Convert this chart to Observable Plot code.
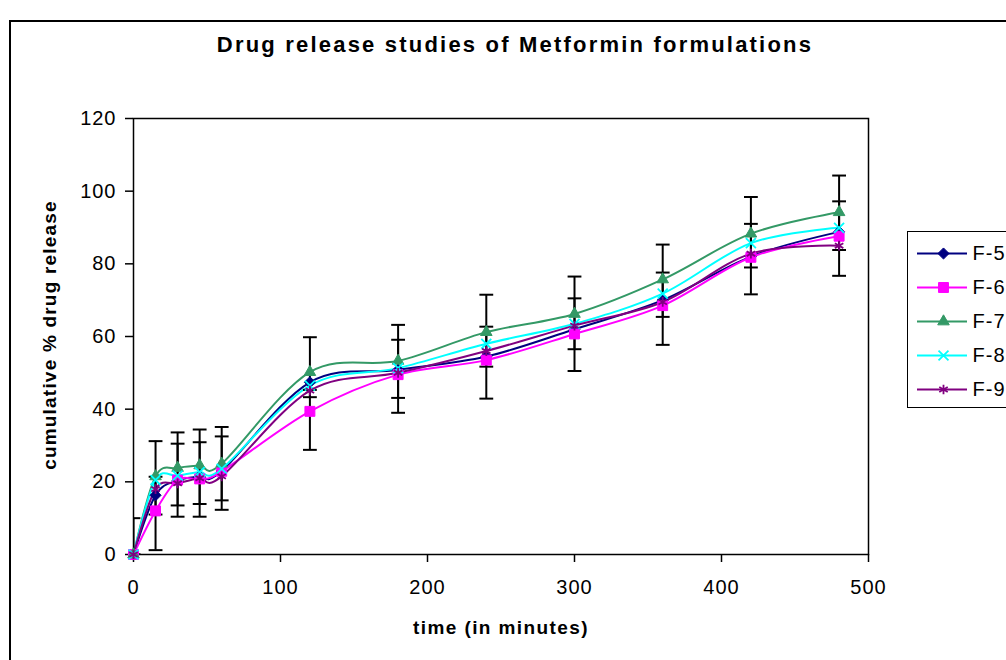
<!DOCTYPE html>
<html>
<head>
<meta charset="utf-8">
<script src="https://cdn.jsdelivr.net/npm/d3@7"></script>
<script src="https://cdn.jsdelivr.net/npm/@observablehq/plot@0.6"></script>
<style>
  html, body { margin: 0; padding: 0; background: #fff; }
  body { width: 1006px; height: 660px; overflow: hidden; position: relative; font-family: "Liberation Sans", Arial, sans-serif; }
  #outer { position: absolute; left: 9px; top: 20px; width: 1100px; height: 700px; border: 2px solid #000; box-sizing: border-box; }
  #chart { position: absolute; left: 0; top: 0; }
  #chart svg text { letter-spacing: 1px; }
  #title { position: absolute; left: 0; width: 1030px; top: 32px; text-align: center; font-weight: bold; font-size: 22px; letter-spacing: 2.2px; }
  #xlabel { position: absolute; left: 0; width: 1002px; top: 617px; text-align: center; font-weight: bold; font-size: 19px; letter-spacing: 1.4px; }
  #ylabel { position: absolute; left: 50px; top: 335px; transform: translate(-50%, -50%) rotate(-90deg); white-space: nowrap; font-weight: bold; font-size: 19px; letter-spacing: 1.2px; }
  #legend { position: absolute; left: 907px; top: 231px; width: 100px; height: 177px; border: 1.5px solid #000; box-sizing: border-box; background: #fff; }
  #legend svg { display: block; }
  #legend svg text { letter-spacing: 1px; }
</style>
</head>
<body>
<div id="outer"></div>
<div id="chart"></div>
<div id="title">Drug release studies of Metformin formulations</div>
<div id="xlabel">time (in minutes)</div>
<div id="ylabel">cumulative % drug release</div>
<div id="legend"></div>
<script>
// ---- data ----
const times = [0, 15, 30, 45, 60, 120, 180, 240, 300, 360, 420, 480];
const seriesNames = ["F-5", "F-6", "F-7", "F-8", "F-9"];
const f5 = [0, 16.3, 20.4, 21.5, 23.0, 47.4, 50.8, 54.5, 62.0, 70.0, 82.0, 88.8];
const f6 = [0, 12.0, 20.5, 20.8, 22.9, 39.4, 49.5, 53.5, 60.7, 68.5, 81.8, 87.6];
const f7 = [0, 21.5, 23.8, 24.5, 25.0, 50.2, 53.3, 61.2, 66.2, 75.7, 88.3, 94.2];
const f8 = [0, 20.5, 21.7, 22.7, 23.6, 46.5, 51.3, 58.0, 63.5, 71.8, 85.7, 89.9];
const f9 = [0, 18.0, 19.6, 21.0, 21.5, 45.1, 50.0, 56.0, 63.0, 69.5, 82.8, 85.0];
// error bars (centre and two half-widths)
const errMean   = [0, 16.2, 22.0, 22.4, 23.7, 44.3, 51.1, 57.2, 63.5, 71.5, 85.0, 90.5];
const errWide   = [10, 15.0, 11.6, 12.0, 11.4, 15.5, 12.1, 14.3, 13.0, 13.8, 13.4, 13.8];
const errNarrow = [0, 5.2, 8.5, 8.5, 8.8, 1.0, 8.0, 5.5, 7.0, 6.1, 6.0, 6.7];
const xTicks = [0, 100, 200, 300, 400, 500];
const yTicks = [0, 20, 40, 60, 80, 100, 120];

// ---- styling ----
const colors = ["#000080", "#FF00FF", "#339966", "#00FFFF", "#800080"];
const symbols = ["diamond2", "square", "triangle", "times", "asterisk"];
const filled = [true, true, true, false, false];
const radii = [5, 5.6, 4.3, 4.6, 4.6];

const seriesValues = [f5, f6, f7, f8, f9];
const long = [];
seriesNames.forEach((name, i) => times.forEach((t, j) => long.push({series: name, t, v: seriesValues[i][j]})));
const errs = [];
times.forEach((t, j) => {
  errs.push({t, lo: errMean[j] - errWide[j], hi: errMean[j] + errWide[j]});
  errs.push({t, lo: errMean[j] - errNarrow[j], hi: errMean[j] + errNarrow[j]});
});
const caps = [];
errs.forEach(e => { caps.push({t: e.t, y: e.lo}); caps.push({t: e.t, y: e.hi}); });
const capSymbol = { draw(ctx, size) { const w = Math.sqrt(size) / 2; ctx.moveTo(-w, 0); ctx.lineTo(w, 0); } };

const dotMarks = seriesNames.map((name, i) => Plot.dot(long.filter(d => d.series === name), {
  x: "t", y: "v", symbol: () => symbols[i], r: radii[i],
  fill: filled[i] ? colors[i] : "none", stroke: colors[i], strokeWidth: filled[i] ? 1 : 1.8
}));

const chart = Plot.plot({
  width: 1006, height: 660,
  marginLeft: 133, marginRight: 138, marginTop: 118, marginBottom: 106,
  style: {fontFamily: "'Liberation Sans', Arial, sans-serif", fontSize: "20px", color: "#000", background: "transparent", overflow: "visible"},
  x: {domain: [0, 500], ticks: xTicks, label: null, tickSize: 8, tickPadding: 17},
  y: {domain: [0, 120], ticks: yTicks, label: null, tickSize: 8, tickPadding: 9},
  color: {domain: seriesNames, range: colors},
  symbol: {type: "identity"},
  marks: [
    Plot.frame({stroke: "#000", strokeWidth: 1.5}),
    Plot.axisX({ticks: xTicks, tickSize: 8, tickPadding: 17, label: null, strokeWidth: 1.5}),
    Plot.axisY({ticks: yTicks, tickSize: 8, tickPadding: 9, label: null, strokeWidth: 1.5}),
    Plot.line(long, {x: "t", y: "v", z: "series", stroke: "series", curve: "cardinal", strokeWidth: 2}),
    Plot.ruleX(errs, {x: "t", y1: "lo", y2: "hi", stroke: "#000", strokeWidth: 2, clip: true}),
    Plot.dot(caps, {x: "t", y: "y", symbol: () => capSymbol, r: 7.8, stroke: "#000", strokeWidth: 2, clip: true}),
    ...dotMarks
  ]
});
document.getElementById("chart").appendChild(chart);

// ---- legend ----
const legendDots = seriesNames.map((name, i) => Plot.dot([name], {
  y: d => d, x: 35, symbol: () => symbols[i], r: radii[i],
  fill: filled[i] ? colors[i] : "none", stroke: colors[i], strokeWidth: filled[i] ? 1 : 1.8
}));
const legend = Plot.plot({
  width: 97, height: 174, marginLeft: 0, marginRight: 0, marginTop: 3, marginBottom: 0,
  style: {fontFamily: "'Liberation Sans', Arial, sans-serif", fontSize: "20px", color: "#000", background: "transparent", overflow: "visible"},
  x: {type: "identity", axis: null},
  y: {type: "band", domain: seriesNames, axis: null, padding: 0},
  color: {domain: seriesNames, range: colors},
  symbol: {type: "identity"},
  marks: [
    Plot.ruleY(seriesNames, {y: d => d, x1: 9, x2: 59, stroke: d => d, strokeWidth: 2}),
    ...legendDots,
    Plot.text(seriesNames, {y: d => d, x: 64, text: d => d, textAnchor: "start", fontSize: 20, fill: "#000"})
  ]
});
document.getElementById("legend").appendChild(legend);
</script>
</body>
</html>
